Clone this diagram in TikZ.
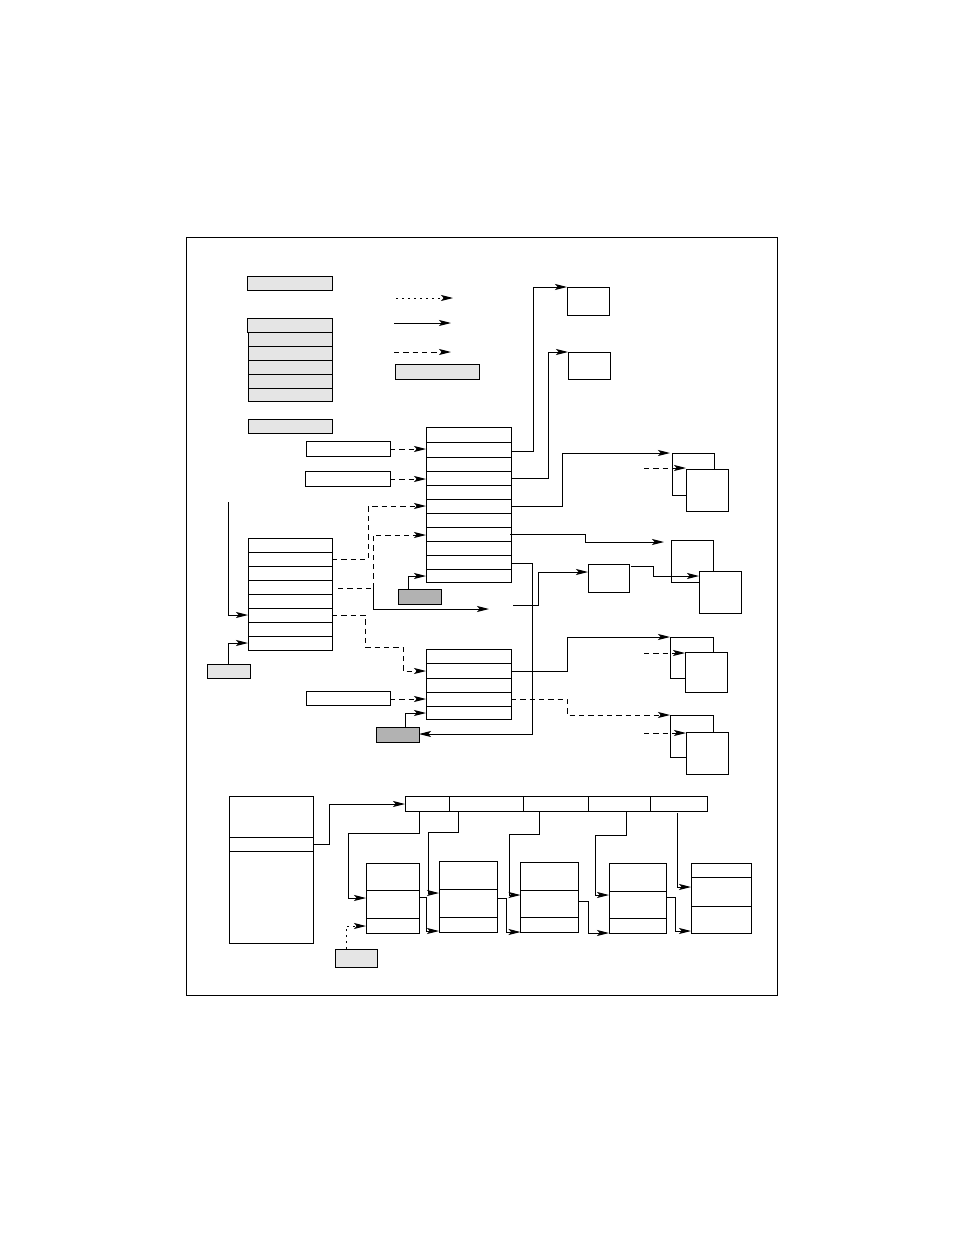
\documentclass[tikz,border=0pt]{standalone}
\usetikzlibrary{arrows.meta}
\definecolor{lg}{gray}{0.9}
\definecolor{dg}{gray}{0.7}
\begin{document}
\begin{tikzpicture}[x=0.75pt,y=-0.75pt,line width=0.7pt,
  arr/.style={-{Stealth[length=9pt,width=4.5pt,inset=2pt]}},
  dsh/.style={dash pattern=on 4pt off 3pt},
  dot/.style={dash pattern=on 1.5pt off 3pt},
  lbox/.style={draw,fill=lg},
  dbox/.style={draw,fill=dg}]
\useasboundingbox (0,0) rectangle (954,1235);
\draw (186,237) rectangle (777,995);
% legend
\draw[lbox] (247,276) rectangle (332,290);
\draw[lbox] (247,318) rectangle (332,332);
\foreach \a/\b in {332/346,346/360,360/374,374/388,388/401}
  \draw[lbox] (248.5,\a) rectangle (332,\b);
\draw[lbox] (248,419) rectangle (332,433);
\draw[arr,dot] (396,298) -- (453,298);
\draw[arr] (394,323) -- (451,323);
\draw[arr,dsh] (394,352) -- (451,352);
\draw[lbox] (395,364) rectangle (479,379);
% top right boxes
\draw (567,287) rectangle (609,315);
\draw (568,352) rectangle (610,379);
% stack A
\foreach \a/\b in {427/442,442/457,457/471,471/485,485/499,499/513,513/527,527/541,541/555,555/569,569/582}
  \draw (426,\a) rectangle (511,\b);
\draw (306,441) rectangle (390,456);
\draw[arr,dsh] (390,449) -- (426,449);
\draw (305,471) rectangle (390,486);
\draw[arr,dsh] (390,479) -- (426,479);
\draw[dbox] (398,589) rectangle (441,604);
\draw[arr] (408,589) |- (426,576);
% stack B
\foreach \a/\b in {538/552,552/566,566/580,580/594,594/608,608/622,622/636,636/650}
  \draw (248,\a) rectangle (332,\b);
\draw[arr] (228,502) |- (248,615);
\draw[lbox] (207,664) rectangle (250.5,678);
\draw[arr] (228,664) |- (248,643);
\draw[arr,dsh] (332,559) -- (368.5,559) |- (426,506);
\draw[dsh] (338,588) -- (373,588);
\draw[arr,dsh] (373,588) |- (426,535);
\draw[arr] (373,588) |- (489,609);
\draw[arr,dsh] (332,615) -- (365,615) -- (365,647) -- (403,647) |- (426,671);
% stack C
\foreach \a/\b in {649/663,663/678,678/692,692/706,706/719}
  \draw (426,\a) rectangle (511,\b);
\draw (306,691) rectangle (390,705);
\draw[arr,dsh] (390,699) -- (426,699);
\draw[dbox] (376,727) rectangle (419,742);
\draw[arr] (405,727) |- (426,713);
\draw[arr] (511,563) -- (532,563) |- (419,734);
% right connectors
\draw[arr] (511,451) -- (533,451) |- (567,287);
\draw[arr] (511,478) -- (548,478) |- (568,352);
\draw[arr] (511,506) -- (562,506) |- (670,453);
\draw (672,453) -- (714,453) -- (714,469);
\draw (672,453) -- (672,495) -- (686,495);
\draw (686,469) rectangle (728,511);
\draw[arr,dsh] (644,468) -- (686,468);
\draw[arr] (510,534) -- (585,534) |- (664,542);
\draw (671,540) -- (713,540) -- (713,571);
\draw (671,540) -- (671,582) -- (699,582);
\draw (699,571) rectangle (741,613);
\draw (588,564) rectangle (629,592);
\draw[arr] (513,605) -- (538,605) |- (588,572);
\draw[arr] (631,566) -- (653,566) |- (699,576);
\draw[arr] (511,671) -- (567,671) |- (670,637);
\draw (670,637) -- (713,637) -- (713,652);
\draw (670,637) -- (670,678) -- (685,678);
\draw (685,652) rectangle (727,692);
\draw[arr,dsh] (644,653) -- (685,653);
\draw[arr,dsh] (511,699) -- (567,699) |- (670,715);
\draw (670,715) -- (713,715) -- (713,732);
\draw (670,715) -- (670,757) -- (686,757);
\draw (686,732) rectangle (728,774);
\draw[arr,dsh] (644,733) -- (686,733);
% bottom
\draw (229,796) rectangle (313.5,943);
\draw (229,837) -- (313.5,837) (229,851) -- (313.5,851);
\draw[arr] (313.5,844) -- (329,844) |- (405,804);
\draw (405,796) rectangle (707,811);
\foreach \x in {449,523,588,650} \draw (\x,796) -- (\x,811);
\draw (366,863) rectangle (419.5,933); \draw (366,890) -- (419.5,890) (366,918) -- (419.5,918);
\draw (439,861) rectangle (497,932); \draw (439,889) -- (497,889) (439,917) -- (497,917);
\draw (520.5,862) rectangle (578,932); \draw (520.5,890) -- (578,890) (520.5,917) -- (578,917);
\draw (609,863) rectangle (666.5,933); \draw (609,891) -- (666.5,891) (609,918) -- (666.5,918);
\draw (691,863) rectangle (751,933); \draw (691,877) -- (751,877) (691,906) -- (751,906);
\draw[arr] (419,811) -- (419,833) -- (348,833) |- (366,898);
\draw[arr] (458,811) -- (458,832) -- (428,832) |- (439,893);
\draw[arr] (539,811) -- (539,834) -- (509,834) |- (520.5,895);
\draw[arr] (626,811) -- (626,835) -- (595,835) |- (609,895);
\draw[arr] (677,813) |- (691,887);
\draw[arr] (419.5,897) -- (426.5,897) |- (439,931);
\draw[arr] (497,898) -- (506,898) |- (520.5,932);
\draw[arr] (578,901) -- (588,901) |- (609,933);
\draw[arr] (666.5,897) -- (675,897) |- (691,931);
\draw[lbox] (335,949) rectangle (377,967);
\draw[arr,dot] (346,949) |- (366,926);
\end{tikzpicture}
\end{document}
